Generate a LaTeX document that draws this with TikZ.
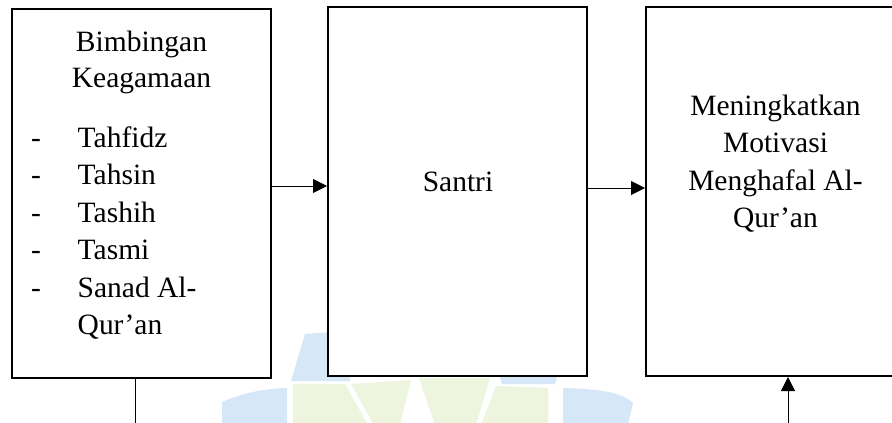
\documentclass[tikz,border=0pt]{standalone}
\usepackage{fontspec}
\setmainfont{Liberation Serif}
\usetikzlibrary{arrows.meta}
\definecolor{wmblue}{RGB}{214,231,247}
\definecolor{wmgreen}{RGB}{237,245,222}
\begin{document}
\begin{tikzpicture}[x=1pt,y=-1pt,
  box/.style={draw,line width=2pt,fill=white,minimum width=259pt,minimum height=369pt,inner sep=0pt},
  txt/.style={inner sep=0pt,font=\fontsize{29.5}{37.5}\selectfont},
  conn/.style={line width=1pt},
  arr/.style={conn,-{Triangle[length=14pt,width=14pt]}},
  wmb/.style={fill=wmblue,draw=none},
  wmg/.style={fill=wmgreen,draw=none}]
\useasboundingbox (0,0) rectangle (892,423);
\clip (0,0) rectangle (892,423);
\fill[white] (0,0) rectangle (892,423);
% faint watermark
\fill[wmb] (222,402) .. controls (245,392) and (265,389) .. (287,388) -- (287,425) -- (222,425) -- cycle;
\fill[wmb] (305,334) -- (345,331) -- (350,381) -- (291,381) -- cycle;
\fill[wmg] (293,384) -- (345,384) -- (368,425) -- (293,425) -- cycle;
\fill[wmg] (351,384) -- (411,380) -- (400,425) -- (374,425) -- cycle;
\fill[wmg] (419,378) -- (490,378) -- (476,425) -- (435,425) -- cycle;
\fill[wmg] (496,386) -- (548,388) -- (548,425) -- (481,425) -- cycle;
\fill[wmb] (500,377) -- (557,377) -- (555,384) -- (502,384) -- cycle;
\fill[wmb] (563,388) .. controls (595,389) and (620,391) .. (633,403) -- (628,425) -- (563,425) -- cycle;
% boxes
\node[box] (b1) at (141.5,193.5) {};
\node[box] (b2) at (457.5,191.5) {};
\node[box] (b3) at (775.5,191.5) {};
% box 1 text
\node[txt,anchor=base] (h1) at (141.5,51) {Bimbingan};
\node[txt,anchor=base] (h2) at (141.5,87) {Keagamaan};
\node[txt,anchor=base west] (d1) at (31,147) {-};
\node[txt,anchor=base west] (i1) at (77.5,147) {Tahfidz};
\node[txt,anchor=base west] (d2) at (31,184) {-};
\node[txt,anchor=base west] (i2) at (77.5,184) {Tahsin};
\node[txt,anchor=base west] (d3) at (31,222) {-};
\node[txt,anchor=base west] (i3) at (77.5,222) {Tashih};
\node[txt,anchor=base west] (d4) at (31,259) {-};
\node[txt,anchor=base west] (i4) at (77.5,259) {Tasmi};
\node[txt,anchor=base west] (d5) at (31,297) {-};
\node[txt,anchor=base west] (i5) at (77.5,297) {Sanad Al-};
\node[txt,anchor=base west] (i6) at (77.5,334) {Qur’an};
% box 2 text
\node[txt,anchor=base] (s1) at (458,191) {Santri};
% box 3 text
\node[txt,anchor=base] (m1) at (775.5,115) {Meningkatkan};
\node[txt,anchor=base] (m2) at (775.5,152.5) {Motivasi};
\node[txt,anchor=base] (m3) at (775.5,190) {Menghafal Al-};
\node[txt,anchor=base] (m4) at (775.5,227.5) {Qur’an};
% connectors
\coordinate (y1) at (0,186);
\coordinate (y2) at (0,188);
\coordinate (e1) at (135,425);
\coordinate (e2) at (788,425);
\draw[arr] (b1.east |- y1) -- (b2.west |- y1);
\draw[arr] (b2.east |- y2) -- (b3.west |- y2);
\draw[conn] (b1.south -| e1) -- (e1);
\draw[arr] (e2) -- (b3.south -| e2);
\end{tikzpicture}
\end{document}
